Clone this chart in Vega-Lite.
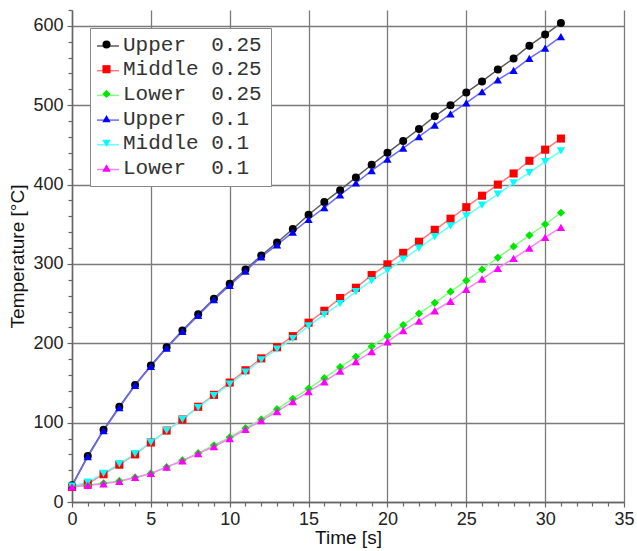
{
  "$schema": "https://vega.github.io/schema/vega-lite/v6.json",
  "width": 552,
  "height": 492,
  "autosize": {"type": "none"},
  "padding": {"left": 72, "top": 10, "right": 13, "bottom": 49},
  "background": "#ffffff",
  "config": {
    "view": {"stroke": null},
    "axis": {
      "labelFont": "Liberation Sans",
      "titleFont": "Liberation Sans",
      "labelFontSize": 18,
      "titleFontSize": 19,
      "titleFontWeight": "normal",
      "labelColor": "#222222",
      "titleColor": "#111111",
      "labelFlush": false,
      "domainColor": "#666666",
      "domainWidth": 1.5,
      "tickColor": "#666666",
      "tickWidth": 1.2,
      "tickSize": 5,
      "gridColor": "#7a7a7a",
      "gridWidth": 1.3,
      "gridOpacity": 1
    }
  },
  "data": {
    "values": [
      {"s":"U25","t":0,"v":21},{"s":"U25","t":1,"v":58},{"s":"U25","t":2,"v":91},{"s":"U25","t":3,"v":120},{"s":"U25","t":4,"v":147.5},{"s":"U25","t":5,"v":172},{"s":"U25","t":6,"v":195},{"s":"U25","t":7,"v":216},{"s":"U25","t":8,"v":236.5},{"s":"U25","t":9,"v":256},{"s":"U25","t":10,"v":275},{"s":"U25","t":11,"v":293},{"s":"U25","t":12,"v":310.5},{"s":"U25","t":13,"v":327},{"s":"U25","t":14,"v":344},{"s":"U25","t":15,"v":362},{"s":"U25","t":16,"v":378},{"s":"U25","t":17,"v":393},{"s":"U25","t":18,"v":409},{"s":"U25","t":19,"v":425},{"s":"U25","t":20,"v":440},{"s":"U25","t":21,"v":455},{"s":"U25","t":22,"v":470},{"s":"U25","t":23,"v":486},{"s":"U25","t":24,"v":500},{"s":"U25","t":25,"v":516},{"s":"U25","t":26,"v":530},{"s":"U25","t":27,"v":545},{"s":"U25","t":28,"v":559},{"s":"U25","t":29,"v":575},{"s":"U25","t":30,"v":589},{"s":"U25","t":31,"v":603.5},
      {"s":"M25","t":0,"v":19},{"s":"M25","t":1,"v":23},{"s":"M25","t":2,"v":35},{"s":"M25","t":3,"v":47},{"s":"M25","t":4,"v":60},{"s":"M25","t":5,"v":75},{"s":"M25","t":6,"v":90},{"s":"M25","t":7,"v":104},{"s":"M25","t":8,"v":120},{"s":"M25","t":9,"v":135},{"s":"M25","t":10,"v":150.5},{"s":"M25","t":11,"v":166},{"s":"M25","t":12,"v":181},{"s":"M25","t":13,"v":195},{"s":"M25","t":14,"v":209},{"s":"M25","t":15,"v":226},{"s":"M25","t":16,"v":241},{"s":"M25","t":17,"v":257},{"s":"M25","t":18,"v":270},{"s":"M25","t":19,"v":286},{"s":"M25","t":20,"v":299.5},{"s":"M25","t":21,"v":314},{"s":"M25","t":22,"v":328},{"s":"M25","t":23,"v":343},{"s":"M25","t":24,"v":357},{"s":"M25","t":25,"v":371.5},{"s":"M25","t":26,"v":386},{"s":"M25","t":27,"v":400},{"s":"M25","t":28,"v":414},{"s":"M25","t":29,"v":430},{"s":"M25","t":30,"v":444},{"s":"M25","t":31,"v":458},
      {"s":"L25","t":0,"v":20},{"s":"L25","t":1,"v":21},{"s":"L25","t":2,"v":23.5},{"s":"L25","t":3,"v":26.5},{"s":"L25","t":4,"v":31},{"s":"L25","t":5,"v":36},{"s":"L25","t":6,"v":44},{"s":"L25","t":7,"v":52.5},{"s":"L25","t":8,"v":61.5},{"s":"L25","t":9,"v":71.5},{"s":"L25","t":10,"v":81.5},{"s":"L25","t":11,"v":93},{"s":"L25","t":12,"v":104},{"s":"L25","t":13,"v":117},{"s":"L25","t":14,"v":130},{"s":"L25","t":15,"v":143},{"s":"L25","t":16,"v":156},{"s":"L25","t":17,"v":170},{"s":"L25","t":18,"v":183},{"s":"L25","t":19,"v":196},{"s":"L25","t":20,"v":209},{"s":"L25","t":21,"v":223},{"s":"L25","t":22,"v":237.5},{"s":"L25","t":23,"v":251},{"s":"L25","t":24,"v":265},{"s":"L25","t":25,"v":279},{"s":"L25","t":26,"v":293},{"s":"L25","t":27,"v":308},{"s":"L25","t":28,"v":322},{"s":"L25","t":29,"v":336},{"s":"L25","t":30,"v":350},{"s":"L25","t":31,"v":364.5},
      {"s":"U1","t":0,"v":20},{"s":"U1","t":1,"v":57},{"s":"U1","t":2,"v":90},{"s":"U1","t":3,"v":119},{"s":"U1","t":4,"v":147},{"s":"U1","t":5,"v":171},{"s":"U1","t":6,"v":194},{"s":"U1","t":7,"v":215},{"s":"U1","t":8,"v":235},{"s":"U1","t":9,"v":255},{"s":"U1","t":10,"v":273},{"s":"U1","t":11,"v":291},{"s":"U1","t":12,"v":309},{"s":"U1","t":13,"v":324},{"s":"U1","t":14,"v":340},{"s":"U1","t":15,"v":356},{"s":"U1","t":16,"v":371},{"s":"U1","t":17,"v":387},{"s":"U1","t":18,"v":402},{"s":"U1","t":19,"v":417.5},{"s":"U1","t":20,"v":432},{"s":"U1","t":21,"v":446},{"s":"U1","t":22,"v":460.5},{"s":"U1","t":23,"v":475},{"s":"U1","t":24,"v":489},{"s":"U1","t":25,"v":503},{"s":"U1","t":26,"v":517},{"s":"U1","t":27,"v":532},{"s":"U1","t":28,"v":544},{"s":"U1","t":29,"v":559},{"s":"U1","t":30,"v":572},{"s":"U1","t":31,"v":586.5},
      {"s":"M1","t":0,"v":20},{"s":"M1","t":1,"v":25},{"s":"M1","t":2,"v":36},{"s":"M1","t":3,"v":48},{"s":"M1","t":4,"v":61},{"s":"M1","t":5,"v":75},{"s":"M1","t":6,"v":90},{"s":"M1","t":7,"v":104},{"s":"M1","t":8,"v":119},{"s":"M1","t":9,"v":134},{"s":"M1","t":10,"v":148.5},{"s":"M1","t":11,"v":163.5},{"s":"M1","t":12,"v":179},{"s":"M1","t":13,"v":192.5},{"s":"M1","t":14,"v":206},{"s":"M1","t":15,"v":222},{"s":"M1","t":16,"v":236},{"s":"M1","t":17,"v":250},{"s":"M1","t":18,"v":265},{"s":"M1","t":19,"v":279},{"s":"M1","t":20,"v":292},{"s":"M1","t":21,"v":306},{"s":"M1","t":22,"v":320},{"s":"M1","t":23,"v":334.5},{"s":"M1","t":24,"v":348},{"s":"M1","t":25,"v":360.5},{"s":"M1","t":26,"v":374},{"s":"M1","t":27,"v":388},{"s":"M1","t":28,"v":402},{"s":"M1","t":29,"v":415},{"s":"M1","t":30,"v":429},{"s":"M1","t":31,"v":442.5},
      {"s":"L1","t":0,"v":19},{"s":"L1","t":1,"v":21},{"s":"L1","t":2,"v":23},{"s":"L1","t":3,"v":26},{"s":"L1","t":4,"v":31},{"s":"L1","t":5,"v":36},{"s":"L1","t":6,"v":44},{"s":"L1","t":7,"v":52},{"s":"L1","t":8,"v":61},{"s":"L1","t":9,"v":70},{"s":"L1","t":10,"v":80},{"s":"L1","t":11,"v":91.5},{"s":"L1","t":12,"v":102.5},{"s":"L1","t":13,"v":114},{"s":"L1","t":14,"v":126.5},{"s":"L1","t":15,"v":139},{"s":"L1","t":16,"v":151.5},{"s":"L1","t":17,"v":165},{"s":"L1","t":18,"v":177},{"s":"L1","t":19,"v":189.5},{"s":"L1","t":20,"v":202},{"s":"L1","t":21,"v":216},{"s":"L1","t":22,"v":228},{"s":"L1","t":23,"v":241},{"s":"L1","t":24,"v":253},{"s":"L1","t":25,"v":268},{"s":"L1","t":26,"v":281},{"s":"L1","t":27,"v":294.5},{"s":"L1","t":28,"v":307},{"s":"L1","t":29,"v":320},{"s":"L1","t":30,"v":333.5},{"s":"L1","t":31,"v":346}
    ]
  },
  "resolve": {"axis": {"x": "independent", "y": "independent"}},
  "layer": [
    {
      "mark": {"type": "line", "strokeWidth": 1.5, "clip": false},
      "encoding": {
        "x": {
          "field": "t", "type": "quantitative",
          "scale": {"domain": [0, 35], "nice": false, "zero": false},
          "axis": {"title": "Time [s]", "values": [0,5,10,15,20,25,30,35], "grid": true, "labelPadding": 3, "titlePadding": 0, "orient": "bottom"}
        },
        "y": {
          "field": "v", "type": "quantitative",
          "scale": {"domain": [0, 620], "nice": false, "zero": false},
          "axis": {"title": "Temperature [°C]", "values": [0,100,200,300,400,500,600], "grid": true, "labelPadding": 4, "titlePadding": 5, "orient": "left"}
        },
        "stroke": {
          "field": "s", "type": "nominal",
          "sort": ["U25","M25","L25","U1","M1","L1"],
          "scale": {"range": ["#5a5a5a","#ff7a7a","#7dff7d","#6a6aff","#66ffff","#ff80ff"]},
          "legend": {
            "title": null,
            "orient": "none",
            "legendX": 18,
            "legendY": 18,
            "zindex": 0,
            "padding": 6,
            "strokeColor": "#888888",
            "fillColor": "#ffffff",
            "labelFont": "Liberation Mono",
            "labelFontSize": 21,
            "labelColor": "transparent",
            "labelOffset": 6,
            "labelLimit": 300,
            "rowPadding": 2.7,
            "symbolType": "stroke",
            "symbolSize": 484,
            "symbolStrokeWidth": 1.5,
            "labelExpr": "{'U25':'Upper\u00a0 0.25','M25':'Middle 0.25','L25':'Lower\u00a0 0.25','U1':'Upper\u00a0 0.1','M1':'Middle 0.1','L1':'Lower\u00a0 0.1'}[datum.value]"
          }
        },
        "order": {"field": "t", "type": "quantitative"}
      }
    },
    {
      "mark": {"type": "point", "filled": true, "opacity": 1, "strokeWidth": 0},
      "encoding": {
        "x": {
          "field": "t", "type": "quantitative",
          "axis": {"title": null, "values": [1,2,3,4,6,7,8,9,11,12,13,14,16,17,18,19,21,22,23,24,26,27,28,29,31,32,33,34], "labels": false, "grid": false, "domain": false, "tickSize": 4, "orient": "bottom"}
        },
        "y": {
          "field": "v", "type": "quantitative",
          "axis": {"title": null, "values": [20,40,60,80,120,140,160,180,220,240,260,280,320,340,360,380,420,440,460,480,520,540,560,580,620], "labels": false, "grid": false, "domain": false, "tickSize": 4, "orient": "left"}
        },
        "fill": {
          "field": "s", "type": "nominal",
          "scale": {"domain": ["U25","M25","L25","U1","M1","L1"], "range": ["#000000","#ff0000","#00e600","#0000ff","#00ffff","#ff00ff"]},
          "legend": {
            "title": null,
            "orient": "none",
            "legendX": 18,
            "legendY": 18,
            "zindex": 1,
            "padding": 6,
            "strokeColor": "transparent",
            "fillColor": "transparent",
            "labelFont": "Liberation Mono",
            "labelFontSize": 21,
            "labelColor": "#333333",
            "labelOffset": 6,
            "labelLimit": 300,
            "rowPadding": 2.7,
            "symbolSize": 484,
            "symbolStrokeWidth": 0,
            "labelExpr": "{'U25':'Upper\u00a0 0.25','M25':'Middle 0.25','L25':'Lower\u00a0 0.25','U1':'Upper\u00a0 0.1','M1':'Middle 0.1','L1':'Lower\u00a0 0.1'}[datum.value]"
          }
        },
        "shape": {
          "field": "s", "type": "nominal",
          "scale": {"domain": ["U25","M25","L25","U1","M1","L1"], "range": ["circle","square","diamond","triangle-up","triangle-down","triangle-up"]}
        },
        "size": {
          "field": "s", "type": "nominal",
          "scale": {"domain": ["U25","M25","L25","U1","M1","L1"], "range": [64, 72, 49, 80, 80, 80]}
        }
      }
    }
  ]
}
